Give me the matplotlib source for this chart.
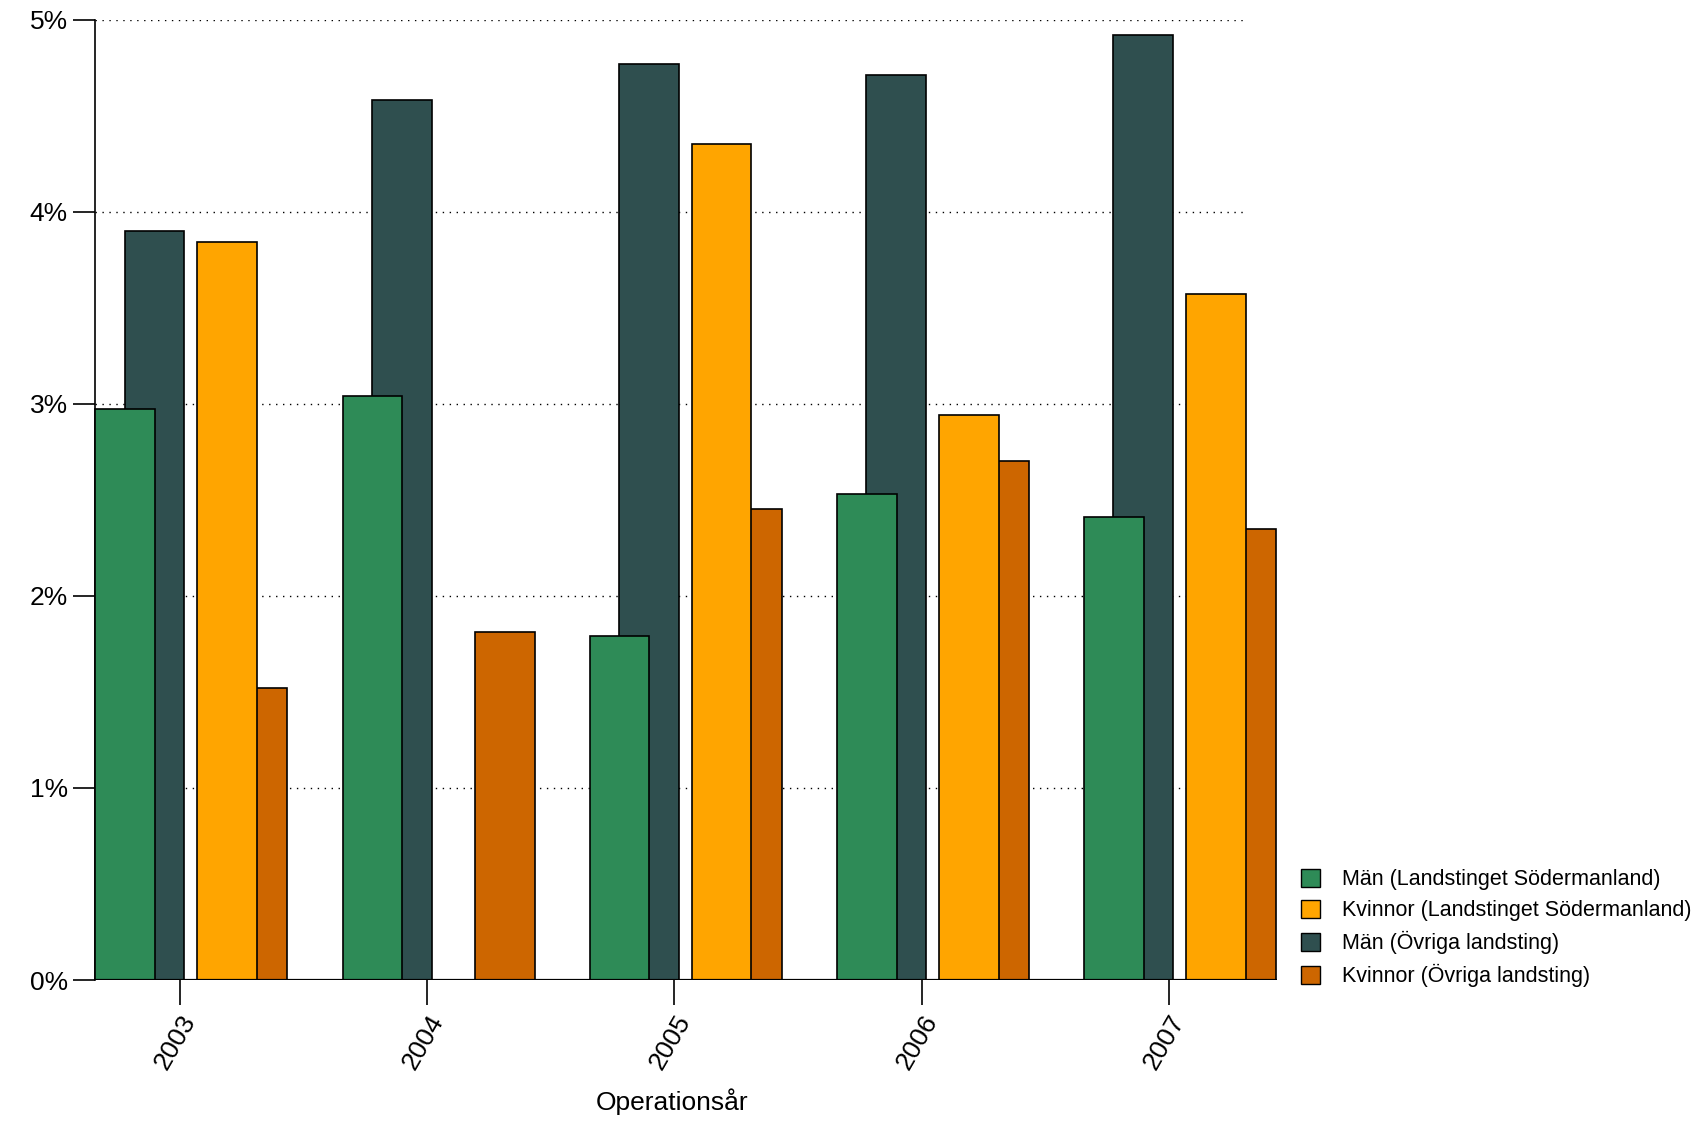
import numpy as np
import matplotlib.pyplot as plt
from matplotlib.patches import Patch

plt.rcParams['font.family'] = ['Liberation Sans', 'DejaVu Sans']

years = ['2003', '2004', '2005', '2006', '2007']
man_sod = [2.97, 3.04, 1.79, 2.53, 2.41]
kv_sod = [3.84, 0.0, 4.35, 2.94, 3.57]
man_ovr = [3.90, 4.58, 4.77, 4.71, 4.92]
kv_ovr = [1.52, 1.81, 2.45, 2.70, 2.35]

C_MS = '#2e8b57'
C_KS = '#ffa500'
C_MO = '#2f4f4f'
C_KO = '#cd6600'

W, H = 1568, 1034
fig = plt.figure(figsize=(17, 11.21), dpi=100)
ax = fig.add_axes([70 / W, 1 - 904 / H, (1180 - 70) / W, (904 - 18) / H])
ax.set_xlim(70, 1180)
ax.set_ylim(0, 5)

x0 = 88 + 228 * np.arange(len(years))
bw = 55
kw = dict(width=bw, align='edge', edgecolor='black', linewidth=1.2)
ax.bar(x0 + 27, man_ovr, color=C_MO, zorder=2, **kw)
ax.bar(x0, man_sod, color=C_MS, zorder=3, **kw)
ax.bar(x0 + 122, kv_ovr, color=C_KO, zorder=2, **kw)
ax.bar(x0 + 94, kv_sod, color=C_KS, zorder=3, **kw)
ax.hlines(0, 88, 1178, colors='black', linewidth=1.6, zorder=4)

for v in range(1, 6):
    ax.hlines(v, 88, 1150, colors='black', linestyles=(0, (1, 4)), linewidth=1, zorder=1)

for s in ['top', 'right', 'bottom']:
    ax.spines[s].set_visible(False)
ax.spines['left'].set_position(('data', 88))
ax.spines['left'].set_bounds(0, 5)
ax.spines['left'].set_linewidth(1.2)
ax.set_yticks(range(6))
ax.set_yticklabels([f'{v}%' for v in range(6)], fontsize=19)
ax.tick_params(axis='y', length=16, width=1.2, pad=4)

ax.set_xticks(x0 + 78)
ax.set_xticklabels(years, rotation=60, ha='right', rotation_mode='anchor', fontsize=19)
ax.tick_params(axis='x', length=18, width=1.2, pad=4)
ax.set_xlabel('Operationsår', fontsize=19)
ax.xaxis.set_label_coords((620 - 70) / (1180 - 70), -(1004 - 904) / (904 - 18))

handles = [
    Patch(facecolor=C_MS, edgecolor='black', label='Män (Landstinget Södermanland)'),
    Patch(facecolor=C_KS, edgecolor='black', label='Kvinnor (Landstinget Södermanland)'),
    Patch(facecolor=C_MO, edgecolor='black', label='Män (Övriga landsting)'),
    Patch(facecolor=C_KO, edgecolor='black', label='Kvinnor (Övriga landsting)'),
]
fig.legend(handles=handles, loc='center left', bbox_to_anchor=(1182 / W, 1 - 856 / H),
           frameon=False, fontsize=15.5, handlelength=0.9, handleheight=0.9,
           handletextpad=1.0, labelspacing=0.45)

fig.savefig('out.png', dpi=100, facecolor='white')
